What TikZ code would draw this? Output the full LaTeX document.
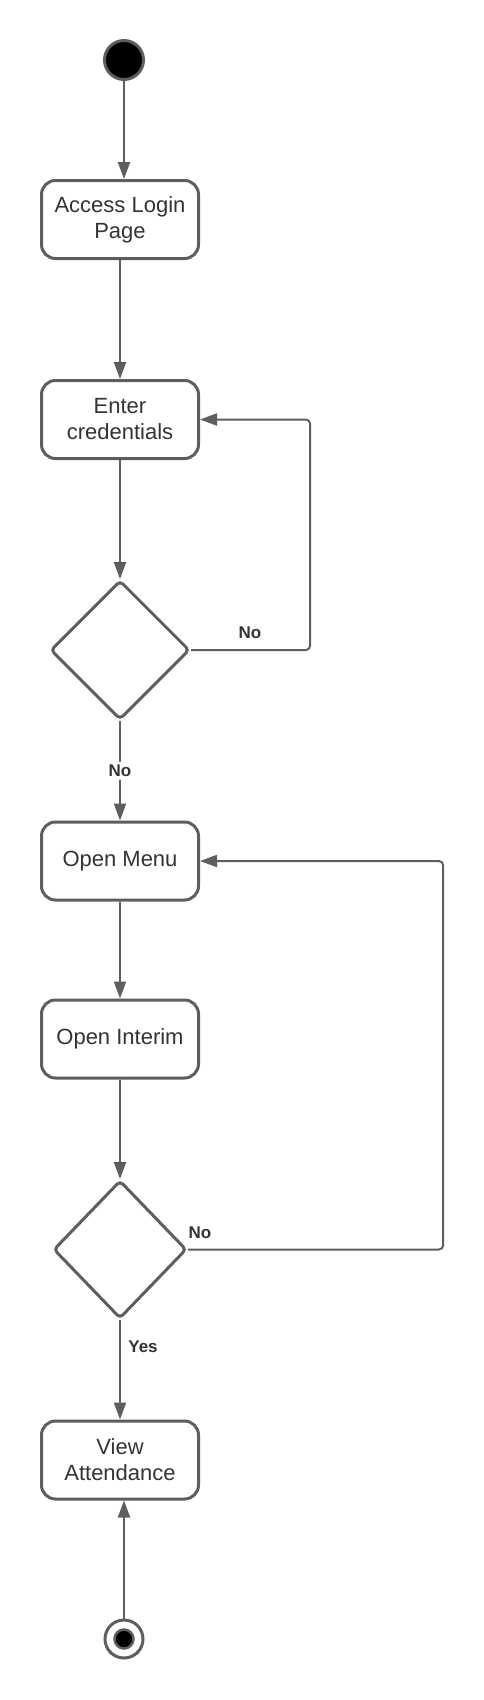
\documentclass[tikz,border=0pt]{standalone}
\usepackage{fontspec}
\setmainfont{Liberation Sans}
\usetikzlibrary{arrows.meta,shapes.geometric}
\definecolor{linegray}{HTML}{5E5E5E}
\definecolor{textgray}{HTML}{333333}
\tikzset{
    activity box/.style={
        draw=linegray, line width=3pt, rounded corners=14pt,
        minimum width=157pt, minimum height=78pt, inner sep=0pt,
        align=center, text=textgray,
        font=\fontsize{22}{26}\selectfont
    },
    decision/.style={
        diamond, draw=linegray, line width=3pt, rounded corners=4pt,
        inner sep=0pt
    },
    start state/.style={
        circle, draw=linegray, line width=3pt, fill=black,
        minimum size=39pt, inner sep=0pt
    },
    end state/.style={
        circle, draw=linegray, line width=3pt, fill=white,
        minimum size=38pt, inner sep=0pt,
        path picture={
            \draw[linegray, line width=2.5pt, fill=black]
            (path picture bounding box.center) circle (9.5pt);
        }
    },
    flow line/.style={
        draw=linegray, line width=2pt, rounded corners=4pt,
        -{Triangle[length=17pt,width=12pt]}
    },
    guard label/.style={
        text=textgray, inner sep=3pt,
        font=\fontsize{17}{19}\selectfont\bfseries
    }
}
\begin{document}
\begin{tikzpicture}[x=1pt,y=-1pt]
    \useasboundingbox (0,0) rectangle (484,1700);
    \node[start state] (start) at (124,60) {};
    \node[activity box] (access) at (120,219.5) {Access Login\\Page};
    \node[activity box] (enter) at (120,419.5) {Enter\\credentials};
    \node[decision, minimum width=139pt, minimum height=139pt] (check) at (120,650) {};
    \node[activity box] (menu) at (120,861) {Open Menu};
    \node[activity box] (interim) at (120,1039) {Open Interim};
    \node[decision, minimum width=133pt, minimum height=138pt] (found) at (120,1249.5) {};
    \node[activity box] (view) at (120,1460) {View\\Attendance};
    \node[end state] (stop) at (124,1639) {};
    \coordinate (retry) at (310,530);
    \coordinate (back) at (443,1050);
    \draw[flow line] (start) -- (start |- access.north);
    \draw[flow line] (access) -- (enter);
    \draw[flow line] (enter) -- (check);
    \draw[flow line] (check.east) -| (retry) |- (enter.east);
    \draw[flow line] (check) -- node[guard label, fill=white] (nobelow) {No} (menu);
    \draw[flow line] (menu) -- (interim);
    \draw[flow line] (interim) -- (found);
    \draw[flow line] (found.east) -| (back) |- (menu.east);
    \draw[flow line] (found) -- (view);
    \draw[flow line] (stop) -- (stop |- view.south);
    \node[guard label] (noright) at (250,633) {No};
    \node[guard label] (noback) at (200,1233) {No};
    \node[guard label] (yes) at (143,1347) {Yes};
\end{tikzpicture}
\end{document}
